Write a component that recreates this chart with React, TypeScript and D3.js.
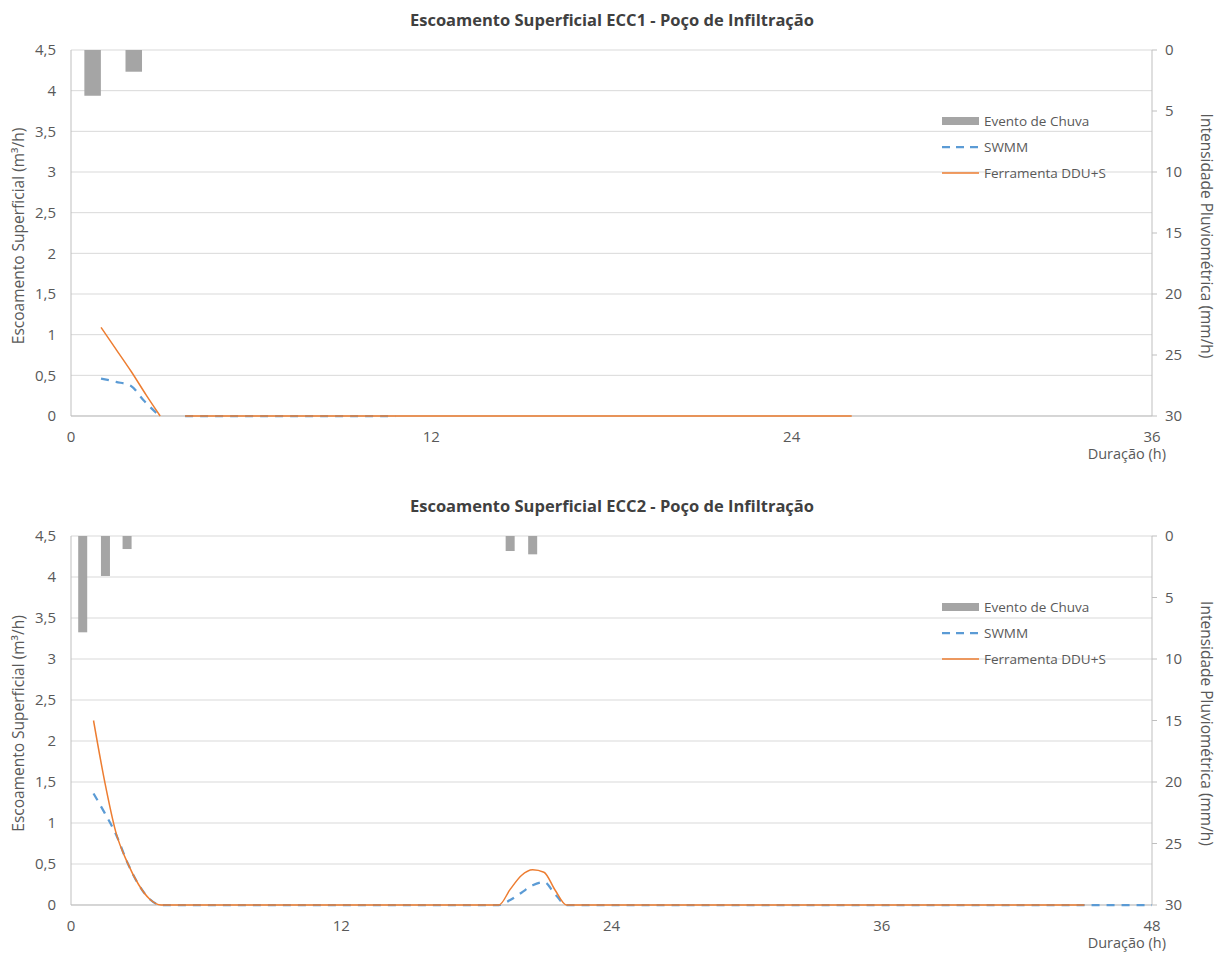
import React from "react";
import * as d3 from "d3";

// ---------- Data ----------
// Chart 1 (ECC1)
const rain1Time = [0.72, 2.09];
const rain1Values = [3.75, 1.78];
const swmm1Time = [1, 1.5, 2, 2.4, 2.95, 3.4, 3.8, 10.8];
const swmm1Values: (number | null)[] = [0.46, 0.42, 0.37, 0.2, 0, null, 0, 0];
const ddu1Time = [1, 1.5, 2, 2.5, 2.97, 3.4, 3.8, 26];
const ddu1Values: (number | null)[] = [1.09, 0.82, 0.55, 0.26, 0, null, 0, 0];

// Chart 2 (ECC2)
const rain2Time = [0.52, 1.53, 2.49, 19.5, 20.5];
const rain2Values = [7.83, 3.25, 1.06, 1.22, 1.49];
const swmm2Time = [1, 1.5, 2, 2.5, 3, 3.5, 4, 19, 19.5, 20, 20.5, 21, 21.5, 22, 48];
const swmm2Values = [1.36, 1.12, 0.86, 0.52, 0.25, 0.07, 0, 0, 0.06, 0.15, 0.24, 0.28, 0.13, 0, 0];
const ddu2Time = [1, 1.5, 2, 2.5, 3, 3.5, 4, 19, 19.5, 20, 20.5, 21, 21.5, 22, 45];
const ddu2Values = [2.25, 1.5, 0.88, 0.52, 0.25, 0.07, 0, 0, 0.19, 0.36, 0.43, 0.4, 0.18, 0, 0];

const leftTicks = [0, 0.5, 1, 1.5, 2, 2.5, 3, 3.5, 4, 4.5];
const rightTicks = [0, 5, 10, 15, 20, 25, 30];
const xTicks1 = [0, 12, 24, 36];
const xTicks2 = [0, 12, 24, 36, 48];

const legendLabels = ["Evento de Chuva", "SWMM", "Ferramenta DDU+S"];

const FONT = "'Open Sans', 'Noto Sans', sans-serif";
const GRID = "#d9d9d9";
const AXIS = "#bfbfbf";
const TXT = "#595959";
const BAR = "#a5a5a5";
const BLUE = "#5b9bd5";
const ORANGE = "#ed7d31";

const fmt = (v: number) => String(v).replace(".", ",");

type PanelProps = {
  top: number;
  bottom: number;
  xMax: number;
  xTicks: number[];
  title: string;
  rainT: number[];
  rainV: number[];
  barW: number;
  swT: number[];
  swV: (number | null)[];
  ddT: number[];
  ddV: (number | null)[];
};

function Panel(p: PanelProps) {
  const left = 71;
  const right = 1152;
  const x = d3.scaleLinear().domain([0, p.xMax]).range([left, right]);
  const y = d3.scaleLinear().domain([0, 4.5]).range([p.bottom, p.top]);
  const yr = d3.scaleLinear().domain([0, 30]).range([p.top, p.bottom]);

  const mk = (T: number[], V: (number | null)[]) =>
    d3
      .line<number>()
      .defined((i) => V[i] !== null)
      .x((i) => x(T[i]))
      .y((i) => y(V[i] as number))
      .curve(d3.curveMonotoneX)(T.map((_, i) => i)) || "";

  const midY = (p.top + p.bottom) / 2 + 3;
  const lg = p.top + 71;
  const tf = 15;

  return (
    <g>
      <text x={612} y={p.top - 30} dy="0.35em" textAnchor="middle" fontFamily={FONT} fontSize={16.5} fontWeight="bold" fill="#404040">
        {p.title}
      </text>
      {leftTicks.map((t) => (
        <line key={"g" + t} x1={left} x2={right} y1={y(t)} y2={y(t)} stroke={GRID} strokeWidth={1} />
      ))}
      {/* bars */}
      {p.rainT.map((t, i) => (
        <rect
          key={"b" + i}
          x={x(t - p.barW / 2)}
          y={yr(0)}
          width={x(p.barW) - x(0)}
          height={yr(p.rainV[i]) - yr(0)}
          fill={BAR}
        />
      ))}
      {/* axes */}
      <line x1={left} x2={left} y1={p.top} y2={p.bottom} stroke={AXIS} />
      <line x1={right} x2={right} y1={p.top} y2={p.bottom} stroke={AXIS} />
      <line x1={left} x2={right} y1={p.bottom} y2={p.bottom} stroke={AXIS} />
      {rightTicks.map((t) => (
        <line key={"rt" + t} x1={right} x2={right + 5} y1={yr(t)} y2={yr(t)} stroke={AXIS} />
      ))}
      {/* lines */}
      <path d={mk(p.swT, p.swV)} fill="none" stroke={BLUE} strokeWidth={2.25} strokeDasharray="8,7" />
      <path d={mk(p.ddT, p.ddV)} fill="none" stroke={ORANGE} strokeWidth={1.5} />
      {/* tick labels */}
      {leftTicks.map((t) => (
        <text key={"lt" + t} x={56} y={y(t)} dy="0.35em" textAnchor="end" fontFamily={FONT} fontSize={tf} fill={TXT}>
          {fmt(t)}
        </text>
      ))}
      {rightTicks.map((t) => (
        <text key={"rl" + t} x={1165} y={yr(t)} dy="0.35em" textAnchor="start" fontFamily={FONT} fontSize={tf} fill={TXT}>
          {t}
        </text>
      ))}
      {p.xTicks.map((t) => (
        <text key={"xt" + t} x={x(t)} y={p.bottom + 21} dy="0.35em" textAnchor="middle" fontFamily={FONT} fontSize={tf} fill={TXT}>
          {t}
        </text>
      ))}
      <text x={1166} y={p.bottom + 38} dy="0.35em" textAnchor="end" fontFamily={FONT} fontSize={14.5} fill={TXT}>
        Duração (h)
      </text>
      <text transform={`translate(19,${midY}) rotate(-90)`} dy="0.35em" textAnchor="middle" fontFamily={FONT} fontSize={15.5} fill={TXT}>
        Escoamento Superficial (m³/h)
      </text>
      <text transform={`translate(1206,${midY}) rotate(90)`} dy="0.35em" textAnchor="middle" fontFamily={FONT} fontSize={15.5} fill={TXT}>
        Intensidade Pluviométrica (mm/h)
      </text>
      {/* legend */}
      <rect x={942} y={lg - 4} width={37} height={8} fill={BAR} />
      <text x={984} y={lg} dy="0.35em" fontFamily={FONT} fontSize={13.5} fill={TXT}>
        {legendLabels[0]}
      </text>
      <line x1={942} x2={979} y1={lg + 26} y2={lg + 26} stroke={BLUE} strokeWidth={2.25} strokeDasharray="8,6" />
      <text x={984} y={lg + 26} dy="0.35em" fontFamily={FONT} fontSize={13.5} fill={TXT}>
        {legendLabels[1]}
      </text>
      <line x1={942} x2={979} y1={lg + 52} y2={lg + 52} stroke={ORANGE} strokeWidth={1.5} />
      <text x={984} y={lg + 52} dy="0.35em" fontFamily={FONT} fontSize={13.5} fill={TXT}>
        {legendLabels[2]}
      </text>
    </g>
  );
}

export default function App() {
  return (
    <svg width={1224} height={955} style={{ position: "absolute", left: 0, top: 0, background: "#fff" }}>
      <rect width={1224} height={955} fill="#fff" />
      <Panel
        top={50}
        bottom={416}
        xMax={36}
        xTicks={xTicks1}
        title="Escoamento Superficial ECC1 - Poço de Infiltração"
        rainT={rain1Time}
        rainV={rain1Values}
        barW={0.55}
        swT={swmm1Time}
        swV={swmm1Values}
        ddT={ddu1Time}
        ddV={ddu1Values}
      />
      <Panel
        top={536}
        bottom={905}
        xMax={48}
        xTicks={xTicks2}
        title="Escoamento Superficial ECC2 - Poço de Infiltração"
        rainT={rain2Time}
        rainV={rain2Values}
        barW={0.4}
        swT={swmm2Time}
        swV={swmm2Values}
        ddT={ddu2Time}
        ddV={ddu2Values}
      />
    </svg>
  );
}
